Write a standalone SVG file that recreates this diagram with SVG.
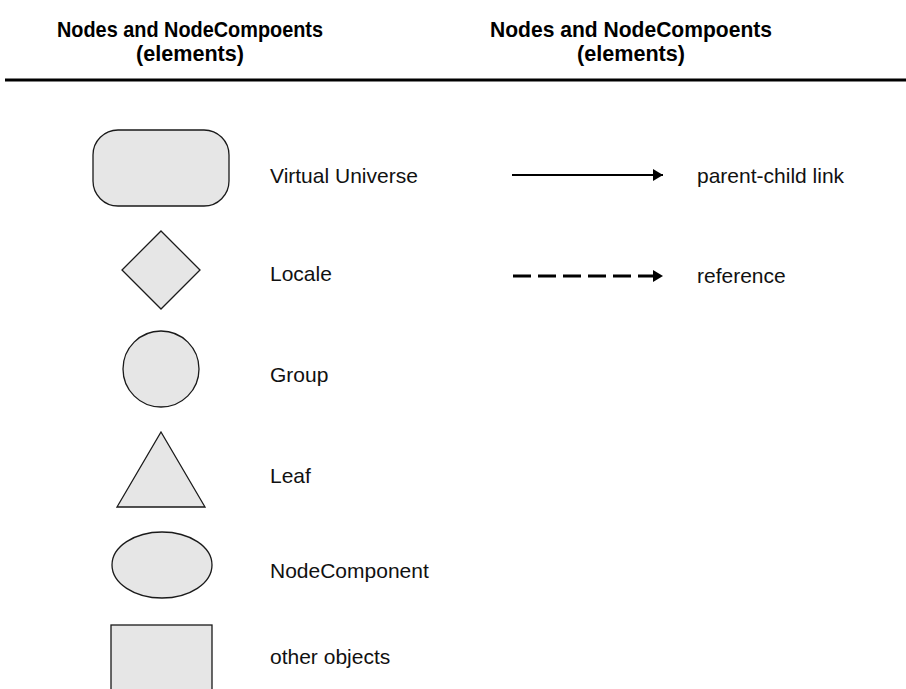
<svg xmlns="http://www.w3.org/2000/svg" width="906" height="689" viewBox="0 0 906 689">
  <style>
    .title { font-family: "Liberation Sans", Arial, sans-serif; font-size: 22px; font-weight: bold; fill: #000; text-anchor: middle; }
    .label { font-family: "Liberation Sans", Arial, sans-serif; font-size: 21px; fill: #111; }
    .shape { fill: #e6e6e6; stroke: #1a1a1a; stroke-width: 1.3; }
    .link { fill: none; stroke: #000; stroke-width: 2; }
    .ref { fill: none; stroke: #000; stroke-width: 3; stroke-dasharray: 18 7; }
  </style>
  <defs>
    <marker id="head" viewBox="0 0 10 12" refX="10" refY="6" markerWidth="10" markerHeight="12" markerUnits="userSpaceOnUse" orient="auto">
      <path d="M0,0 L10,6 L0,12 Z" fill="#000"/>
    </marker>
  </defs>
  <rect width="906" height="689" fill="#fff"/>

  <!-- column headings -->
  <g id="heading-left">
    <text class="title" x="190" y="37" textLength="266" lengthAdjust="spacingAndGlyphs">Nodes and NodeCompoents</text>
    <text class="title" x="190" y="61" textLength="108" lengthAdjust="spacingAndGlyphs">(elements)</text>
  </g>
  <g id="heading-right">
    <text class="title" x="631" y="37" textLength="282" lengthAdjust="spacingAndGlyphs">Nodes and NodeCompoents</text>
    <text class="title" x="631" y="61" textLength="108" lengthAdjust="spacingAndGlyphs">(elements)</text>
  </g>
  <line x1="5" y1="80" x2="906" y2="80" stroke="#000" stroke-width="3"/>

  <!-- node symbols -->
  <g id="virtual-universe">
    <rect class="shape" x="93" y="130" width="136" height="76" rx="25" ry="25"/>
    <text class="label" x="270" y="183">Virtual Universe</text>
  </g>
  <g id="locale">
    <polygon class="shape" points="161,231 200,270 161,309 122,270"/>
    <text class="label" x="270" y="281">Locale</text>
  </g>
  <g id="group">
    <circle class="shape" cx="161" cy="369" r="38"/>
    <text class="label" x="270" y="382">Group</text>
  </g>
  <g id="leaf">
    <polygon class="shape" points="161,432 205,507 117,507"/>
    <text class="label" x="270" y="483">Leaf</text>
  </g>
  <g id="node-component">
    <ellipse class="shape" cx="162" cy="565" rx="50" ry="33"/>
    <text class="label" x="270" y="578">NodeComponent</text>
  </g>
  <g id="other-objects">
    <rect class="shape" x="111" y="625" width="101" height="80"/>
    <text class="label" x="270" y="664">other objects</text>
  </g>

  <!-- connector symbols -->
  <g id="connectors">
    <line class="link" x1="512" y1="175" x2="663" y2="175" marker-end="url(#head)"/>
    <line class="ref" x1="513" y1="276" x2="663" y2="276" marker-end="url(#head)"/>
  </g>
  <g id="connector-labels">
    <text class="label" x="697" y="183">parent-child link</text>
    <text class="label" x="697" y="283">reference</text>
  </g>
</svg>
